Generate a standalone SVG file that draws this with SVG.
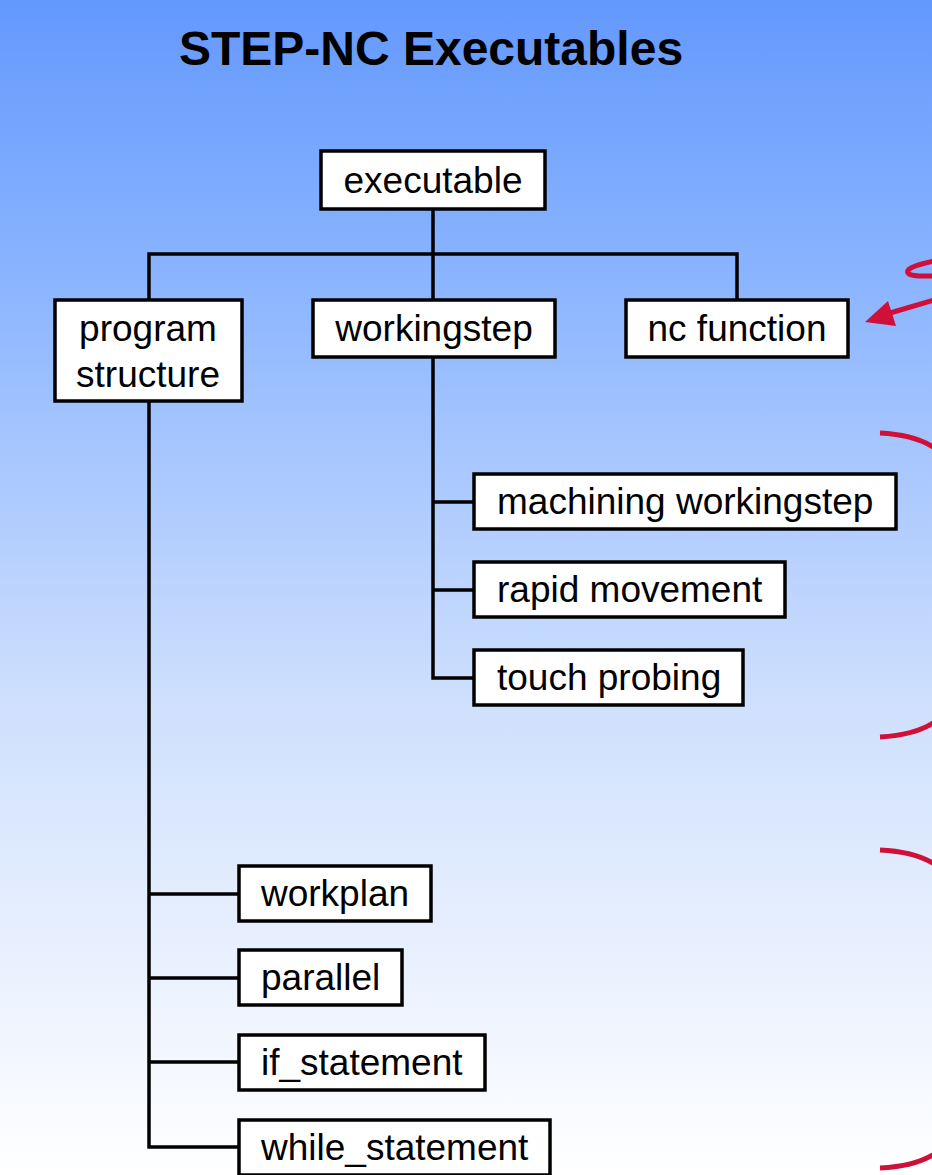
<svg xmlns="http://www.w3.org/2000/svg" width="932" height="1175" viewBox="0 0 932 1175">
<defs>
<linearGradient id="bg" x1="0" y1="0" x2="0" y2="1">
<stop offset="0" stop-color="#6398fd"/>
<stop offset="0.25" stop-color="#8db6ff"/>
<stop offset="0.6" stop-color="#cfe0fd"/>
<stop offset="1" stop-color="#ffffff"/>
</linearGradient>
</defs>
<style>
.box{fill:#fff;stroke:#000;stroke-width:3.5}
.t{font-family:"Liberation Sans",Arial,sans-serif;font-size:37px;fill:#000}
.c{fill:none;stroke:#000;stroke-width:3.5}
.r{fill:none;stroke:#d01038;stroke-width:5}
</style>
<rect x="0" y="0" width="932" height="1175" fill="url(#bg)"/>
<text x="431" y="65" text-anchor="middle" font-family="Liberation Sans,Arial,sans-serif" font-size="48" font-weight="bold">STEP-NC Executables</text>
<g id="connectors">
<path class="c" d="M433,209 V254 M149,300 V254 H737 V300 M433,254 V300"/>
<path class="c" d="M433,357 V678 H474 M433,502 H474 M433,590 H474"/>
<path class="c" d="M149,402 V1147 H239 M149,894 H239 M149,978 H239 M149,1062 H239"/>
</g>
<g id="executable"><rect class="box" x="321" y="151" width="224" height="58"/><text class="t" x="433" y="193" text-anchor="middle">executable</text></g>
<g id="program-structure"><rect class="box" x="55" y="300" width="187" height="101"/><text class="t" x="148" y="341" text-anchor="middle">program</text><text class="t" x="148" y="387" text-anchor="middle">structure</text></g>
<g id="workingstep"><rect class="box" x="313" y="300" width="242" height="57"/><text class="t" x="434" y="341" text-anchor="middle">workingstep</text></g>
<g id="nc-function"><rect class="box" x="626" y="300" width="222" height="57"/><text class="t" x="737" y="341" text-anchor="middle">nc function</text></g>
<g id="machining-workingstep"><rect class="box" x="474" y="474" width="422" height="55"/><text class="t" x="497" y="514">machining workingstep</text></g>
<g id="rapid-movement"><rect class="box" x="474" y="562" width="311" height="55"/><text class="t" x="497" y="602">rapid movement</text></g>
<g id="touch-probing"><rect class="box" x="474" y="650" width="269" height="55"/><text class="t" x="497" y="690">touch probing</text></g>
<g id="workplan"><rect class="box" x="239" y="866" width="192" height="55"/><text class="t" x="261" y="906">workplan</text></g>
<g id="parallel"><rect class="box" x="239" y="950" width="163" height="55"/><text class="t" x="261" y="990">parallel</text></g>
<g id="if_statement"><rect class="box" x="239" y="1035" width="246" height="55"/><text class="t" x="261" y="1075">if_statement</text></g>
<g id="while_statement"><rect class="box" x="239" y="1120" width="311" height="55"/><text class="t" x="261" y="1160">while_statement</text></g>
<g id="annotations">
<path class="r" d="M934,261 C920,264 905,268 908,273 C911,277 924,276 934,276"/>
<path class="r" d="M934,300 L890,313"/>
<path d="M865,322 L888,301 L896,326 z" fill="#d01038"/>
<path class="r" d="M880,433 Q920,435 940,452 M880,737 Q920,735 940,718"/>
<path class="r" d="M880,850 Q920,852 940,868 M880,1168 Q920,1166 940,1150"/>
</g>
</svg>
